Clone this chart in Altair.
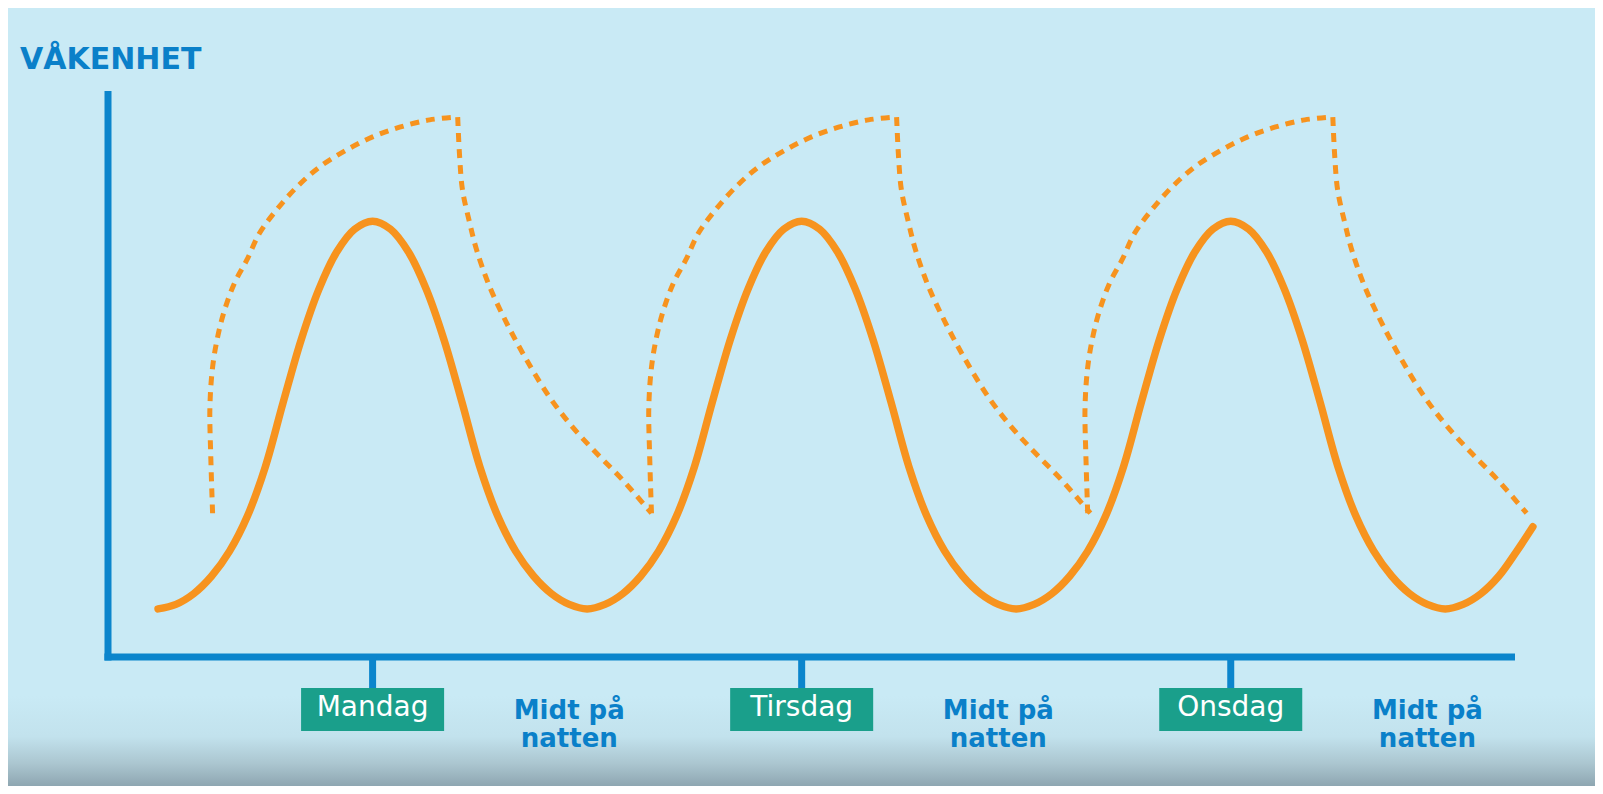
import altair as alt
import pandas as pd

# ---------------- data ----------------
# x: hours counted from Monday 00:00, y: "våkenhet" (0 = x-axis line, 100 = top of y-axis)
X_DOMAIN = [-2.8, 75.9]
Y_DOMAIN = [0, 100]

SOLID_HOURS = list(range(0, 77)) + [76.9]
SOLID_VALUES = [
    8.5, 9.3, 11.2, 14.3, 18.7, 24.9, 33.6, 45.0, 56.0, 65.0, 71.6, 75.6,
    77.0, 75.6, 71.6, 65.0, 56.0, 45.0, 33.6, 24.9, 18.7, 14.3, 11.2, 9.3,
    8.5, 9.3, 11.2, 14.3, 18.7, 24.9, 33.6, 45.0, 56.0, 65.0, 71.6, 75.6,
    77.0, 75.6, 71.6, 65.0, 56.0, 45.0, 33.6, 24.9, 18.7, 14.3, 11.2, 9.3,
    8.5, 9.3, 11.2, 14.3, 18.7, 24.9, 33.6, 45.0, 56.0, 65.0, 71.6, 75.6,
    77.0, 75.6, 71.6, 65.0, 56.0, 45.0, 33.6, 24.9, 18.7, 14.3, 11.2, 9.3,
    8.5, 9.3, 11.2, 14.3, 18.7, 23.0,
]

# dashed curve: rising part (offset in hours from its start) and falling part
RISE_DH = [0.0, -0.10, -0.15, 0.0, 0.28, 0.67, 1.23, 1.91, 2.63, 3.58, 4.70, 5.99, 7.50, 8.95, 10.46, 12.14, 13.71]
RISE_V = [25.4, 35.3, 44.2, 51.2, 56.5, 61.3, 66.1, 70.1, 74.9, 79.0, 83.0, 86.6, 89.6, 91.9, 93.6, 94.9, 95.4]
FALL_DH = [0.0, 0.11, 0.27, 0.67, 1.06, 1.79, 2.74, 3.85, 5.14, 6.43, 7.77, 9.22, 10.84]
FALL_V = [95.4, 88.3, 82.5, 76.7, 71.9, 65.4, 59.0, 52.5, 45.9, 40.6, 36.0, 31.3, 25.4]
RISE_STARTS = [3.05, 27.6, 52.0]
FALL_STARTS = [16.76, 41.31, 65.71]

DAY_HOURS = [12, 36, 60]
DAY_LABELS = ["Mandag", "Tirsdag", "Onsdag"]
NIGHT_HOURS = [23, 47, 71]
NIGHT_LABELS = ["Midt på\nnatten", "Midt på\nnatten", "Midt på\nnatten"]
TITLE = "VÅKENHET"

# ---------------- styling ----------------
BG = "#c9eaf5"
BLUE = "#0b85cc"
TEXT_BLUE = "#0a80c9"
ORANGE = "#f7931e"
TEAL = "#1a9f8b"

W, H = 1407, 566
PAD = {"left": 100, "top": 83, "right": 80, "bottom": 129}
xs = alt.Scale(domain=X_DOMAIN, nice=False, zero=False)
ys = alt.Scale(domain=Y_DOMAIN, nice=False, zero=False)

solid_df = pd.DataFrame({"h": SOLID_HOURS, "v": SOLID_VALUES})

rows = []
seg = 0
for rs, fs in zip(RISE_STARTS, FALL_STARTS):
    for i, (dh, v) in enumerate(zip(RISE_DH, RISE_V)):
        rows.append({"seg": seg, "i": i, "h": rs + dh, "v": v})
    seg += 1
    for i, (dh, v) in enumerate(zip(FALL_DH, FALL_V)):
        rows.append({"seg": seg, "i": i, "h": fs + dh, "v": v})
    seg += 1
dashed_df = pd.DataFrame(rows)

days_df = pd.DataFrame({"h": DAY_HOURS, "label": DAY_LABELS})
nights_df = pd.DataFrame({"h": NIGHT_HOURS, "label": NIGHT_LABELS})
axes_df = pd.DataFrame({"x": [-3.0, X_DOMAIN[0]], "x2": [X_DOMAIN[1], X_DOMAIN[0]],
                        "y": [0, -0.6], "y2": [0, 100]})
one = pd.DataFrame({"t": [TITLE]})

# bottom darkening band (background decoration)
shade = alt.Chart(one).mark_rect(
    fill=alt.LinearGradient(
        gradient="linear", x1=0, x2=0, y1=0, y2=1,
        stops=[alt.GradientStop(color=BG, offset=0),
               alt.GradientStop(color="#c2e2ed", offset=0.45),
               alt.GradientStop(color="#abc6d0", offset=0.75),
               alt.GradientStop(color="#8ea6b1", offset=1)]),
).encode(x=alt.value(-PAD["left"]), x2=alt.value(W + PAD["right"]),
         y=alt.value(605), y2=alt.value(H + PAD["bottom"]))

axes = alt.Chart(axes_df).mark_rule(color=BLUE, strokeWidth=7).encode(
    x=alt.X("x:Q", scale=xs, axis=None), x2="x2:Q",
    y=alt.Y("y:Q", scale=ys, axis=None), y2="y2:Q")

ticks = alt.Chart(days_df).mark_rule(color=BLUE, strokeWidth=7).encode(
    x=alt.X("h:Q", scale=xs, axis=None), y=alt.value(H), y2=alt.value(H + 31))

boxes = alt.Chart(days_df).transform_calculate(
    x1="datum.h - 4", x2="datum.h + 4"
).mark_rect(color=TEAL).encode(
    x=alt.X("x1:Q", scale=xs, axis=None), x2="x2:Q",
    y=alt.value(H + 31), y2=alt.value(H + 74))

day_text = alt.Chart(days_df).mark_text(
    font="DejaVu Sans", fontSize=28, color="white", align="center", baseline="alphabetic"
).encode(x=alt.X("h:Q", scale=xs, axis=None), y=alt.value(H + 59), text="label:N")

night_text = alt.Chart(nights_df).mark_text(
    font="DejaVu Sans", fontSize=26, fontWeight="bold", color=TEXT_BLUE,
    align="center", baseline="alphabetic", lineBreak="\n", lineHeight=28
).encode(x=alt.X("h:Q", scale=xs, axis=None), y=alt.value(H + 62), text="label:N")

title = alt.Chart(one).mark_text(
    font="DejaVu Sans", fontSize=30, fontWeight="bold", color=TEXT_BLUE,
    align="left", baseline="alphabetic"
).encode(x=alt.value(-88), y=alt.value(-22), text="t:N")

solid = alt.Chart(solid_df).mark_line(
    color=ORANGE, strokeWidth=7.5, interpolate="catmull-rom", strokeCap="round"
).encode(x=alt.X("h:Q", scale=xs, axis=None), y=alt.Y("v:Q", scale=ys, axis=None))

dashed = alt.Chart(dashed_df).mark_line(
    color=ORANGE, strokeWidth=5, strokeDash=[9, 7], interpolate="catmull-rom"
).encode(x=alt.X("h:Q", scale=xs, axis=None), y=alt.Y("v:Q", scale=ys, axis=None),
         detail="seg:N", order="i:Q")

chart = alt.layer(shade, axes, ticks, boxes, day_text, night_text, title, dashed, solid).properties(
    width=W, height=H,
    padding=PAD,
    autosize=alt.AutoSizeParams(type="none"),
    background=BG,
).configure_view(stroke=None)

chart.save("out.html", embed_options={"renderer": "svg", "actions": False})
